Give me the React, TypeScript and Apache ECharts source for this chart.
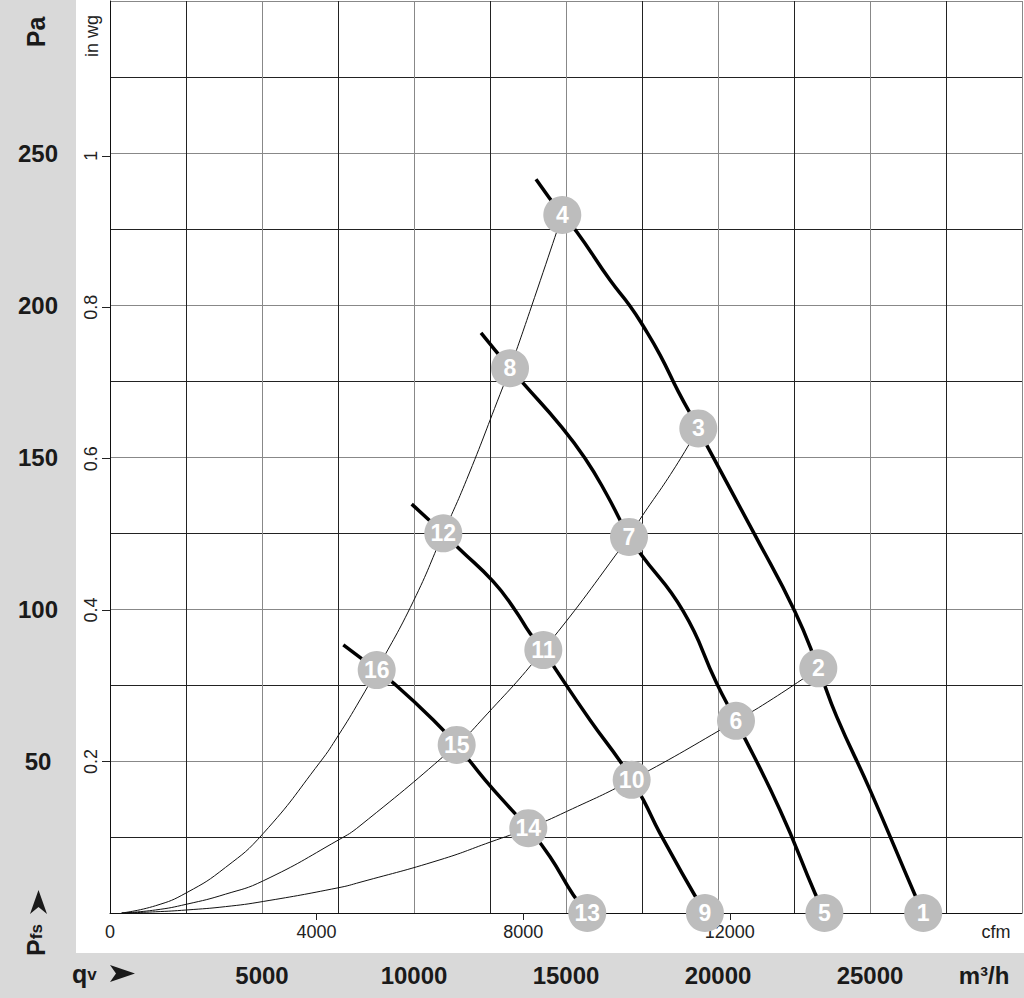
import React, { useEffect, useRef } from 'react';
import * as echarts from 'echarts';

// Axis tick labels
const M3H_LABELS = [5000, 10000, 15000, 20000, 25000];
const PA_LABELS = [50, 100, 150, 200, 250];
const CFM_LABELS = [0, 4000, 8000, 12000];
const CFM_TICKS = [4000, 8000, 12000];
const INWG_LABELS = [0.2, 0.4, 0.6, 0.8, 1];

// Unit conversions
const M3H_MAX = 30000;
const PA_MAX = 300;
const M3H_PER_CFM = 1.69901;
const PA_PER_INWG = 249.089;

// Fan curves [m³/h, Pa]
const curveA = [[14013, 241.4], [14878, 229.6], [15352, 224.1], [16447, 208.2], [17105, 199.7], [17544, 193.0], [18092, 183.6], [18695, 171.5], [19352, 159.4], [19681, 152.9], [21217, 124.3], [22533, 99.1], [23300, 80.5], [23904, 64.6], [25000, 40.5], [26480, 5.9], [26750, 0]];
const curveB = [[12204, 190.8], [13158, 179.2], [13596, 174.2], [14803, 160.5], [15625, 149.6], [16349, 137.5], [17072, 123.7], [17434, 118.4], [18859, 99.2], [19956, 75.6], [20592, 63.2], [22039, 33.9], [23191, 6.5], [23500, 0]];
const curveC = [[9924, 134.5], [10964, 124.9], [11513, 119.6], [12609, 109.0], [13322, 99.7], [13816, 92.0], [14254, 86.5], [14638, 80.5], [15789, 63.5], [16831, 49.2], [17160, 43.8], [17544, 37.2], [18092, 26.2], [19570, 0]];
const curveD = [[7675, 88.2], [8773, 79.9], [9375, 75.2], [10635, 63.5], [11404, 55.3], [12336, 43.8], [13213, 33.9], [13760, 27.9], [14474, 18.5], [15241, 5.9], [15700, 0]];

// System curves [m³/h, Pa]
const system1 = [[385, 0], [1500, 2.4], [2523, 6.7], [3800, 15.0], [5043, 26.2], [6908, 49.6], [7510, 58.4], [8224, 70.1], [8773, 79.9], [9977, 102.5], [10964, 124.9], [11733, 142.6], [12829, 170.6], [13158, 179.2], [13871, 199.7], [14878, 229.6]];
const system2 = [[385, 0], [1500, 1.0], [2523, 2.9], [3800, 6.2], [5043, 10.6], [7510, 24.0], [8224, 28.7], [11404, 55.3], [12226, 63.5], [14254, 86.5], [17072, 123.7], [17434, 129.5], [18530, 145.7], [19352, 159.4]];
const system3 = [[385, 0], [1500, 0.4], [2523, 1.0], [3800, 2.1], [5043, 3.8], [7510, 8.3], [8224, 10.1], [10855, 17.5], [12500, 23.3], [13760, 27.9], [15022, 33.4], [17160, 43.8], [20592, 63.2], [21820, 70.6], [23300, 80.5]];

// Operating point markers
const MARKER_NAMES = ['1', '2', '3', '4', '5', '6', '7', '8', '9', '10', '11', '12', '13', '14', '15', '16'];
const MARKER_Q = [26750, 23300, 19352, 14878, 23500, 20592, 17072, 13158, 19570, 17160, 14254, 10964, 15700, 13760, 11404, 8773];
const MARKER_P = [0, 80.5, 159.4, 229.6, 0, 63.2, 123.7, 179.2, 0, 43.8, 86.5, 124.9, 0, 27.9, 55.3, 79.9];

const FONT = '"Liberation Sans", Arial, sans-serif';

function buildOption() {
  const fan = (data: number[][]) => ({
    type: 'line', data, symbol: 'none', showSymbol: false, smooth: 0.5,
    lineStyle: { color: '#000', width: 3.5 }, z: 3, silent: true, clip: false,
  });
  const sys = (data: number[][]) => ({
    type: 'line', data, symbol: 'none', showSymbol: false, smooth: 0.5,
    lineStyle: { color: '#111', width: 1 }, z: 2, silent: true, clip: false,
  });
  return {
    animation: false,
    grid: { left: 110, right: 2, top: 1, bottom: 85, containLabel: false },
    xAxis: [
      {
        type: 'value', position: 'bottom', min: 0, max: M3H_MAX, interval: 2500,
        axisLine: { show: true, lineStyle: { color: '#111', width: 1 } },
        axisTick: { show: false },
        splitLine: { show: true, lineStyle: { color: ['#888', '#222'], width: 1 } },
        axisLabel: {
          customValues: M3H_LABELS, margin: 62, verticalAlign: 'middle',
          fontFamily: FONT, fontWeight: 'bold', fontSize: 24, color: '#1a1a1a',
          formatter: (v: number) => String(v),
        },
      },
      {
        type: 'value', position: 'bottom', offset: 0, min: 0, max: M3H_MAX / M3H_PER_CFM,
        axisLine: { show: false },
        splitLine: { show: false },
        axisTick: { show: true, customValues: CFM_TICKS, length: 7, lineStyle: { color: '#222' } },
        axisLabel: {
          customValues: CFM_LABELS, margin: 19, verticalAlign: 'middle',
          fontFamily: FONT, fontSize: 18, color: '#222',
          formatter: (v: number) => String(v),
        },
      },
    ],
    yAxis: [
      {
        type: 'value', position: 'left', min: 0, max: PA_MAX, interval: 25,
        axisLine: { show: true, lineStyle: { color: '#111', width: 1 } },
        axisTick: { show: false },
        splitLine: { show: true, lineStyle: { color: ['#888', '#222'], width: 1 } },
        axisLabel: {
          customValues: PA_LABELS, margin: 72, align: 'center',
          fontFamily: FONT, fontWeight: 'bold', fontSize: 24, color: '#1a1a1a',
          formatter: (v: number) => String(v),
        },
      },
      {
        type: 'value', position: 'left', offset: 0, min: 0, max: PA_MAX / PA_PER_INWG,
        axisLine: { show: false },
        splitLine: { show: false },
        axisTick: { show: true, customValues: INWG_LABELS, length: 8, lineStyle: { color: '#222' } },
        axisLabel: {
          customValues: INWG_LABELS, rotate: 90, margin: 10, align: 'center', verticalAlign: 'bottom',
          fontFamily: FONT, fontSize: 18, color: '#222',
          formatter: (v: number) => String(Math.round(v * 10) / 10),
        },
      },
    ],
    series: [
      sys(system1), sys(system2), sys(system3),
      fan(curveA), fan(curveB), fan(curveC), fan(curveD),
      {
        type: 'scatter', z: 5, silent: true, clip: false,
        data: MARKER_NAMES.map((n, i) => [MARKER_Q[i], MARKER_P[i], n]),
        symbol: 'circle', symbolSize: 38,
        itemStyle: { color: '#bdbdbd', opacity: 1 },
        label: {
          show: true, position: 'inside', formatter: (p: any) => p.value[2],
          color: '#fff', fontFamily: FONT, fontWeight: 'bold', fontSize: 23,
        },
      },
    ],
    graphic: [
      {
        type: 'text', x: 36, y: 32, rotation: Math.PI / 2, z: 100,
        style: { text: 'Pa', fontFamily: FONT, fontWeight: 'bold', fontSize: 25, fill: '#1a1a1a', align: 'center', verticalAlign: 'middle' },
      },
      {
        type: 'text', x: 92, y: 36, rotation: Math.PI / 2, z: 100,
        style: { text: 'in wg', fontFamily: FONT, fontSize: 18, fill: '#222', align: 'center', verticalAlign: 'middle' },
      },
      {
        type: 'text', x: 36, y: 940, rotation: Math.PI / 2, z: 100,
        style: {
          text: '{p|P}{s|fs}', align: 'center', verticalAlign: 'middle',
          rich: {
            p: { fontFamily: FONT, fontWeight: 'bold', fontSize: 25, fill: '#1a1a1a' },
            s: { fontFamily: FONT, fontWeight: 'bold', fontSize: 17, fill: '#1a1a1a' },
          },
        },
      },
      {
        type: 'polygon', z: 100,
        shape: { points: [[30, 914], [38.5, 890], [47, 914], [38.5, 907]] },
        style: { fill: '#1a1a1a' },
      },
      {
        type: 'text', x: 72, y: 974, z: 100,
        style: {
          text: '{q|q}{v|v}', align: 'left', verticalAlign: 'middle',
          rich: {
            q: { fontFamily: FONT, fontWeight: 'bold', fontSize: 25, fill: '#1a1a1a' },
            v: { fontFamily: FONT, fontWeight: 'bold', fontSize: 17, fill: '#1a1a1a' },
          },
        },
      },
      {
        type: 'polygon', z: 100,
        shape: { points: [[110, 965], [135, 973.5], [110, 982], [116, 973.5]] },
        style: { fill: '#1a1a1a' },
      },
      {
        type: 'text', x: 984, y: 975, z: 100,
        style: { text: 'm³/h', fontFamily: FONT, fontWeight: 'bold', fontSize: 24, fill: '#1a1a1a', align: 'center', verticalAlign: 'middle' },
      },
      {
        type: 'text', x: 996, y: 932, z: 100,
        style: { text: 'cfm', fontFamily: FONT, fontSize: 18, fill: '#222', align: 'center', verticalAlign: 'middle' },
      },
    ],
  };
}

export default function App() {
  const ref = useRef<HTMLDivElement>(null);
  useEffect(() => {
    if (!ref.current) return;
    const chart = echarts.init(ref.current, null, { renderer: 'svg' });
    chart.setOption(buildOption() as any);
    return () => chart.dispose();
  }, []);
  return (
    <div style={{ position: 'absolute', left: 0, top: 0, width: 1024, height: 998, background: '#d9d9d9' }}>
      <div style={{ position: 'absolute', left: 76, top: 0, width: 948, height: 953, background: '#ffffff' }} />
      <div ref={ref} style={{ position: 'absolute', left: 0, top: 0, width: 1024, height: 998 }} />
    </div>
  );
}
